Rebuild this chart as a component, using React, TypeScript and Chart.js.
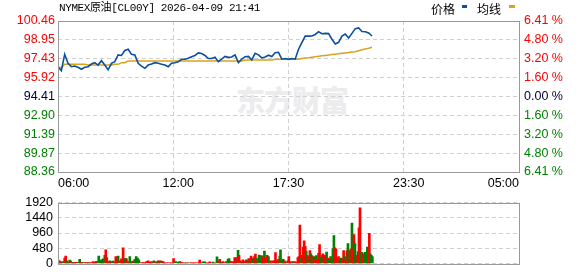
import React, { useEffect, useRef } from "react";
import { Chart, registerables } from "chart.js";
Chart.register(...registerables);

const TITLE = "NYMEX原油[CL00Y] 2026-04-09 21:41";
const SESSION_MINUTES = 1380; // 06:00 -> 05:00 next day
const STEP_MINUTES = 10;
const timeTickMinutes = [0, 360, 690, 1050, 1380];
const timeTickLabels = ["06:00", "12:00", "17:30", "23:30", "05:00"];

const priceTicks = [100.46, 98.95, 97.43, 95.92, 94.41, 92.9, 91.39, 89.87, 88.36];
const pctTicks = ["6.41 %", "4.80 %", "3.20 %", "1.60 %", "0.00 %", "1.60 %", "3.20 %", "4.80 %", "6.41 %"];

const prices = [
  96.8, 96.48, 97.79, 97.07, 96.8, 96.85, 96.75, 96.59, 96.75, 96.8,
  97.01, 97.12, 96.93, 97.28, 96.93, 96.55, 97.07, 97.2, 97.74, 97.7,
  98.1, 98.2, 97.79, 97.74, 97.07, 96.85, 96.67, 96.93, 97.01, 97.12,
  97.07, 97.0, 96.93, 96.8, 97.07, 97.12, 97.2, 97.39, 97.39, 97.47,
  97.6, 97.7, 97.9, 97.85, 97.7, 97.45, 97.45, 97.55, 97.2, 97.4,
  97.62, 97.55, 97.58, 97.75, 97.12, 97.4, 97.6, 97.62, 97.35, 97.87,
  97.75, 97.5, 97.58, 97.72, 97.62, 97.92, 97.95, 97.4, 97.45, 97.39,
  97.45, 97.4, 98.2, 98.72, 99.25, 99.25, 99.26, 99.38, 99.6, 99.44,
  99.47, 99.45, 99.0, 98.62, 98.75, 99.25, 99.42, 99.1, 99.47, 99.85,
  99.9, 99.62, 99.6, 99.5, 99.26,
];

const avgPrices = [
  96.8, 96.7, 96.99, 96.99, 96.99, 96.99, 96.99, 96.99, 96.99, 96.93,
  96.93, 96.93, 96.93, 96.93, 96.93, 96.93, 96.93, 96.99, 96.99, 97.12,
  97.12, 97.25, 97.25, 97.25, 97.25, 97.25, 97.25, 97.25, 97.25, 97.25,
  97.25, 97.25, 97.25, 97.25, 97.25, 97.25, 97.25, 97.25, 97.25, 97.25,
  97.25, 97.25, 97.25, 97.25, 97.25, 97.25, 97.25, 97.25, 97.25, 97.25,
  97.25, 97.25, 97.25, 97.25, 97.25, 97.25, 97.33, 97.33, 97.33, 97.33,
  97.33, 97.33, 97.33, 97.33, 97.33, 97.39, 97.39, 97.39, 97.39, 97.39,
  97.39, 97.39, 97.39, 97.45, 97.5, 97.52, 97.56, 97.6, 97.63, 97.67,
  97.7, 97.73, 97.77, 97.8, 97.83, 97.87, 97.9, 97.93, 97.97, 98.0,
  98.08, 98.15, 98.22, 98.28, 98.35,
];

const volTicks = [0, 480, 960, 1440, 1920];
const volMinutes = [
  0, 4, 7, 11, 15, 20, 23, 27, 31, 35, 38, 42, 46, 50, 55, 60, 65, 70, 75, 80,
  85, 90, 95, 100, 105, 110, 115, 119, 122, 127, 130, 135, 140, 143, 146, 150, 155, 160, 165, 169,
  173, 176, 180, 185, 190, 195, 198, 202, 205, 210, 215, 220, 225, 230, 234, 238, 242, 248, 254, 260,
  265, 270, 275, 280, 287, 291, 295, 300, 305, 310, 315, 320, 325, 330, 335, 340, 346, 352, 359, 364,
  369, 374, 379, 384, 389, 394, 399, 404, 409, 414, 419, 424, 429, 434, 439, 444, 449, 454, 459, 464,
  470, 476, 481, 484, 489, 494, 499, 504, 509, 512, 516, 522, 526, 529, 534, 539, 542, 546, 550, 554,
  559, 564, 567, 571, 574, 578, 581, 585, 588, 591, 594, 598, 602, 606, 609, 612, 615, 618, 621, 626,
  630, 636, 643, 648, 651, 656, 660, 664, 666, 670, 674, 678, 683, 688, 691, 696, 703, 708, 713, 718,
  721, 724, 728, 731, 734, 737, 740, 743, 746, 748, 751, 754, 757, 760, 763, 766, 770, 773, 776, 780,
  783, 786, 790, 793, 796, 800, 804, 808, 812, 816, 820, 823, 826, 829, 832, 836, 840, 844, 848, 852,
  855, 858, 861, 865, 868, 871, 874, 877, 880, 883, 886, 889, 892, 895, 898, 901, 904, 907, 910, 914,
  917, 920, 923, 926, 929, 932, 935, 938, 941,
];
const volValues = [
  104, 86, 60, 35, 60, 173, 233, 86, 35, 104, 78, 35, 35, 35, 35, 35, 130, 35, 30, 30,
  30, 30, 30, 30, 60, 43, 69, 35, 233, 86, 112, 147, 259, 432, 190, 60, 86, 60, 78, 35,
  216, 112, 233, 86, 147, 492, 147, 164, 147, 60, 216, 60, 78, 130, 216, 173, 112, 30, 30, 30,
  60, 86, 43, 60, 86, 30, 60, 86, 86, 78, 60, 20, 20, 20, 20, 20, 155, 60, 43, 60,
  43, 20, 20, 20, 20, 20, 20, 20, 20, 20, 20, 104, 20, 52, 52, 20, 20, 52, 20, 43,
  25, 207, 69, 130, 43, 60, 30, 60, 130, 155, 69, 60, 43, 190, 190, 415, 259, 86, 60, 112,
  69, 112, 86, 155, 78, 233, 173, 147, 216, 294, 173, 112, 268, 112, 251, 164, 216, 389, 173, 259,
  216, 86, 86, 86, 346, 86, 130, 233, 432, 86, 130, 86, 43, 86, 216, 60, 60, 60, 43, 190,
  216, 1210, 173, 260, 518, 717, 544, 389, 260, 216, 130, 406, 302, 250, 130, 216, 130, 250, 130, 320,
  596, 173, 250, 302, 173, 260, 363, 173, 130, 216, 173, 458, 881, 492, 458, 173, 216, 130, 173, 147,
  406, 216, 104, 406, 630, 260, 406, 458, 1270, 432, 907, 630, 173, 260, 372, 1123, 1750, 302, 354, 302,
  130, 354, 320, 518, 302, 950, 302, 260, 216,
];
// R = up (red), G = down (green)
const volDirs =
  "RRRRGRRGRGRRGRRGGRGR" +
  "RGRRRRGRGRGGGRRRGRGR" +
  "RRGRRRRGRRGGRGGGGRRR" +
  "RRRRGRGRRGRRRRRRRGGG" +
  "RRGRRGRRRRRRRGGRRRRG" +
  "RGRRGRRGGGRRRRRGRRGR" +
  "RGRRGRRGRRGRGGGRRGRR" +
  "GRRGRRRGGRGRRGRRGRRR" +
  "RRGRRRRGGRGRGRRGRGRR" +
  "RGGRGRGRGGRGGRRRRGGR" +
  "RGRRGGRRGRRGGRGRRGGR" +
  "RGGGRRGGG";

const RED = "#ff0000";
const GREEN = "#008000";
const DARK = "#000033";
const GRID = "#d0d0d0";
const AXIS_FONT = { family: "'Liberation Sans', Arial, sans-serif", size: 12.5 };

const framePlugin = {
  id: "frame",
  afterDraw(chart: any) {
    const { ctx, chartArea } = chart;
    const l = Math.round(chartArea.left) + 0.5;
    const t = Math.round(chartArea.top) + 0.5;
    const w = Math.round(chartArea.right) - Math.round(chartArea.left);
    const h = Math.round(chartArea.bottom) - Math.round(chartArea.top);
    ctx.save();
    ctx.strokeStyle = "#999";
    ctx.lineWidth = 1;
    ctx.setLineDash([]);
    ctx.strokeRect(l, t, w, h);
    ctx.restore();
  },
};

const quarterTicks = (s: any) => {
  s.ticks = [0, 1, 2, 3, 4].map((i) => ({ value: (SESSION_MINUTES * i) / 4 }));
};

const tickColor = (i: number) => (i < 4 ? RED : i === 4 ? DARK : GREEN);

export default function App() {
  const priceRef = useRef<HTMLCanvasElement>(null);
  const volRef = useRef<HTMLCanvasElement>(null);

  useEffect(() => {
    const pricePts = prices.map((p, i) => ({ x: i * STEP_MINUTES, y: p }));
    const avgPts = avgPrices.map((p, i) => ({ x: i * STEP_MINUTES, y: p }));
    const yMin = priceTicks[priceTicks.length - 1];
    const yMax = priceTicks[0];

    const priceChart = new Chart(priceRef.current!, {
      type: "line",
      data: {
        datasets: [
          { data: pricePts, borderColor: "#0b4f9e", borderWidth: 1.6, pointRadius: 0, tension: 0 },
          { data: avgPts, borderColor: "#dba21e", borderWidth: 1.5, pointRadius: 0, tension: 0 },
        ],
      },
      options: {
        animation: false,
        responsive: false,
        devicePixelRatio: 1,
        layout: { padding: { top: 21, left: 0, right: 0, bottom: 0 } },
        plugins: { legend: { display: false }, tooltip: { enabled: false }, title: { display: false } },
        scales: {
          x: {
            type: "linear",
            min: 0,
            max: SESSION_MINUTES,
            position: "bottom",
            afterBuildTicks: quarterTicks,
            afterFit: (s: any) => { s.height = 0; },
            ticks: { display: false },
            grid: { color: GRID, drawTicks: false, lineWidth: 1 },
            border: { display: false, dash: [4, 3] },
          },
          xl: {
            type: "linear",
            min: 0,
            max: SESSION_MINUTES,
            position: "bottom",
            afterBuildTicks: (s: any) => { s.ticks = timeTickMinutes.map((v) => ({ value: v })); },
            afterFit: (s: any) => { s.height = 18; },
            ticks: {
              align: "inner",
              maxRotation: 0,
              autoSkip: false,
              padding: 4,
              color: "#000",
              font: AXIS_FONT,
              callback: (_v: any, i: number) => timeTickLabels[i],
            },
            grid: { display: false, drawTicks: false },
            border: { display: false },
          },
          y: {
            position: "left",
            min: yMin,
            max: yMax,
            afterBuildTicks: (s: any) => { s.ticks = priceTicks.map((v) => ({ value: v })); },
            afterFit: (s: any) => { s.width = 58; },
            ticks: {
              autoSkip: false,
              padding: 3,
              font: AXIS_FONT,
              color: (c: any) => tickColor(c.index),
              callback: (v: any) => Number(v).toFixed(2),
            },
            grid: { color: GRID, drawTicks: false },
            border: { display: false, dash: [4, 3] },
          },
          y1: {
            position: "right",
            min: yMin,
            max: yMax,
            afterBuildTicks: (s: any) => { s.ticks = priceTicks.map((v) => ({ value: v })); },
            afterFit: (s: any) => { s.width = 59; },
            ticks: {
              autoSkip: false,
              padding: 5,
              font: AXIS_FONT,
              color: (c: any) => tickColor(c.index),
              callback: (_v: any, i: number) => pctTicks[i],
            },
            grid: { display: false, drawTicks: false },
            border: { display: false },
          },
        },
      } as any,
      plugins: [framePlugin],
    });

    const volPts = volMinutes.map((m, i) => ({ x: m, y: volValues[i] }));
    const volColors = volMinutes.map((_m, i) => (volDirs[i] === "G" ? GREEN : RED));

    const volChart = new Chart(volRef.current!, {
      type: "bar",
      data: {
        datasets: [
          { data: volPts, backgroundColor: volColors, borderWidth: 0, barThickness: 2, grouped: false } as any,
        ],
      },
      options: {
        animation: false,
        responsive: false,
        devicePixelRatio: 1,
        layout: { padding: { top: 6, left: 0, right: 0, bottom: 6 } },
        plugins: { legend: { display: false }, tooltip: { enabled: false } },
        scales: {
          x: {
            type: "linear",
            min: 0,
            max: SESSION_MINUTES,
            offset: false,
            afterBuildTicks: quarterTicks,
            afterFit: (s: any) => { s.height = 0; },
            ticks: { display: false },
            grid: { color: GRID, drawTicks: false, offset: false },
            border: { display: false, dash: [4, 3] },
          },
          y: {
            position: "left",
            min: volTicks[0],
            max: volTicks[volTicks.length - 1],
            afterBuildTicks: (s: any) => { s.ticks = volTicks.map((v) => ({ value: v })); },
            afterFit: (s: any) => { s.width = 58; },
            ticks: {
              autoSkip: false,
              padding: 5,
              font: AXIS_FONT,
              color: "#000",
              callback: (v: any) => String(v),
            },
            grid: { color: GRID, drawTicks: false },
            border: { display: false, dash: [4, 3] },
          },
          y1: {
            position: "right",
            display: true,
            afterFit: (s: any) => { s.width = 59; },
            ticks: { display: false },
            grid: { display: false, drawTicks: false },
            border: { display: false },
          },
        },
      } as any,
      plugins: [framePlugin],
    });

    return () => {
      priceChart.destroy();
      volChart.destroy();
    };
  }, []);

  return (
    <div style={{ position: "absolute", left: 0, top: 0, width: 578, height: 276, background: "#fff", overflow: "hidden" }}>
      <div
        style={{
          position: "absolute",
          left: 236,
          top: 78,
          fontFamily: "'Noto Sans CJK SC', sans-serif",
          fontWeight: 900,
          fontSize: 29,
          color: "#ececee",
          letterSpacing: -1,
          whiteSpace: "nowrap",
        }}
      >
        东方财富
      </div>
      <canvas ref={priceRef} width={578} height={190} style={{ position: "absolute", left: 0, top: 0 }} />
      <canvas ref={volRef} width={578} height={86} style={{ position: "absolute", left: 0, top: 190 }} />
      <div
        style={{
          position: "absolute",
          left: 59,
          top: 2,
          fontFamily: "'Liberation Mono', 'Noto Sans CJK SC', monospace",
          fontSize: 11,
          letterSpacing: -0.4,
          color: "#000",
          whiteSpace: "nowrap",
          lineHeight: "13px",
        }}
      >
        {TITLE}
      </div>
      <div
        style={{
          position: "absolute",
          left: 431,
          top: 1,
          fontFamily: "'Noto Sans CJK SC', sans-serif",
          fontSize: 12,
          color: "#000",
          whiteSpace: "nowrap",
          lineHeight: "15px",
          display: "flex",
          alignItems: "center",
        }}
      >
        <span>价格</span>
        <span style={{ display: "inline-block", width: 5, height: 3, background: "#0b4f9e", margin: "0 10px 4px 7px" }} />
        <span>均线</span>
        <span style={{ display: "inline-block", width: 6, height: 3, background: "#dba21e", margin: "0 0 4px 8px" }} />
      </div>
    </div>
  );
}
